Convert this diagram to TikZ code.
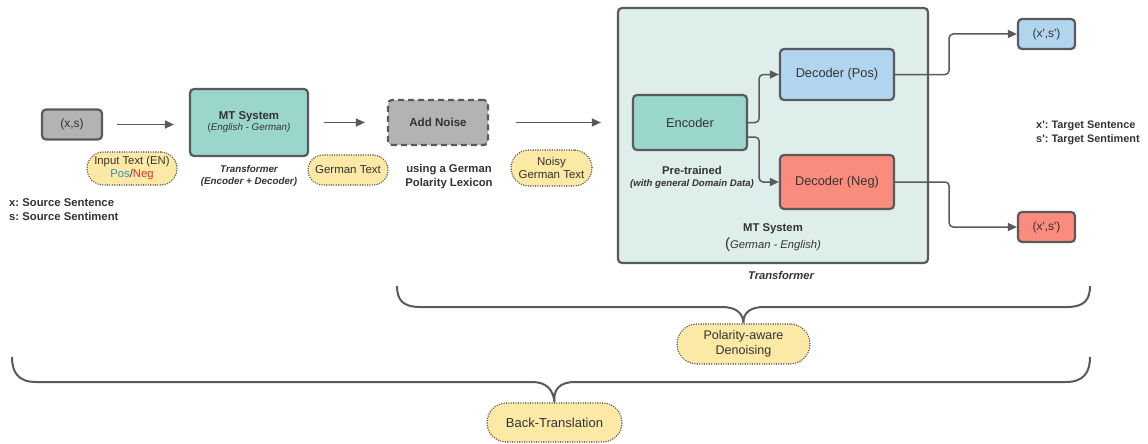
\documentclass[tikz,border=0pt]{standalone}
\usepackage{fontspec}
\setmainfont{Liberation Sans}
\usetikzlibrary{arrows.meta}
\definecolor{ink}{HTML}{5A5A5A}
\definecolor{txt}{HTML}{333333}
\definecolor{cgray}{HTML}{B3B3B3}
\definecolor{cteal}{HTML}{9AD6CB}
\definecolor{cpale}{HTML}{DDEEEB}
\definecolor{cblue}{HTML}{B2D5EF}
\definecolor{csalmon}{HTML}{FA8C7E}
\definecolor{cyellow}{HTML}{FDE9A6}
\definecolor{posblue}{HTML}{2B8CC4}
\definecolor{negred}{HTML}{E0302C}
\newcommand{\fs}[2]{\fontsize{#1}{#2}\selectfont}
\newcommand{\pr}{\textquotesingle}
\frenchspacing
\tikzset{
  box/.style={draw=ink, line width=2.2pt, rounded corners=4pt, text=txt, inner sep=0pt, align=center},
  pill/.style={draw=ink, fill=cyellow, line width=1.6pt, dash pattern=on 0pt off 2.4pt, line cap=round, text=txt, inner sep=0pt, align=center},
  arr/.style={draw=ink, line width=1.5pt, rounded corners=4pt, -{Triangle[length=9pt,width=8pt]}},
  brace/.style={draw=ink, line width=2pt},
  lbl/.style={text=txt, inner sep=0pt, align=center, font=\bfseries\fs{11.3}{14}},
}
\begin{document}
\frenchspacing
\begin{tikzpicture}[x=1pt,y=-1pt]
\useasboundingbox (0,0) rectangle (1148,444);
% left part
\node[box, fill=cgray, minimum width=60pt, minimum height=30pt, font=\fs{12}{14}] (xs) at (72,124.5) {(x,s)};
\node[box, fill=cteal, minimum width=118pt, minimum height=67pt] (mt) at (249,122.5)
  {{\bfseries\fs{11.4}{13}MT System}\\[-1pt]{\fs{9.8}{12}(\itshape English - German)}};
\node[pill, minimum width=90pt, minimum height=33pt, rounded corners=16.5pt, font=\fs{11.3}{13}] (inp) at (132,168.5)
  {Input Text (EN)\\\textcolor{posblue}{Pos}/\textcolor{negred}{Neg}};
\node[lbl, font=\bfseries\itshape\fs{9.8}{12.5}] (trf1) at (249,176) {Transformer\\(Encoder + Decoder)};
\node[lbl, anchor=west, align=left] (srcl) at (9,210) {x: Source Sentence\\s: Source Sentiment};
\node[box, fill=cgray, dash pattern=on 6pt off 4pt, minimum width=100pt, minimum height=45pt, font=\bfseries\fs{11.6}{13}] (noise) at (438,122.5) {Add Noise};
\node[pill, minimum width=80pt, minimum height=30pt, rounded corners=15pt, font=\fs{11.5}{13}] (gt) at (348,170) {German Text};
\node[lbl] (lex) at (449,177) {using a German\\Polarity Lexicon};
\node[pill, minimum width=81pt, minimum height=36pt, rounded corners=18pt, font=\fs{11.5}{13}] (ngt) at (551.5,168) {Noisy\\German Text};
% container
\node[box, fill=cpale, minimum width=310pt, minimum height=255pt] (cont) at (773,135.5) {};
\node[box, fill=cteal, minimum width=114pt, minimum height=55pt, font=\fs{12.8}{14}] (enc) at (690,122.5) {Encoder};
\node[box, fill=cblue, minimum width=114pt, minimum height=51pt, font=\fs{12.8}{14}] (dpos) at (837,74.5) {Decoder (Pos)};
\node[box, fill=csalmon, minimum width=114pt, minimum height=54pt, font=\fs{12.8}{14}] (dneg) at (837,182) {Decoder (Neg)};
\node[lbl] (pre) at (692,170) {Pre-trained};
\node[lbl, font=\bfseries\itshape\fs{9.6}{11}] (pre2) at (692,184) {(with general Domain Data)};
\node[lbl] (mt2) at (773,229) {MT System};
\node[lbl, font=\fs{11.2}{14}] (mt2b) at (773,245) {{\fs{15}{15}(}\itshape German - English)};
\node[lbl, font=\bfseries\itshape\fs{11.2}{14}] (trf2) at (781,275) {Transformer};
% outputs
\node[box, fill=cblue, minimum width=57pt, minimum height=30pt, font=\fs{12}{14}] (opos) at (1046.5,34) {(x\pr,s\pr)};
\node[box, fill=csalmon, minimum width=57pt, minimum height=30pt, font=\fs{12}{14}] (oneg) at (1046.5,227) {(x\pr,s\pr)};
\node[lbl, anchor=west, align=left, font=\bfseries\fs{10.9}{14}] (tgtl) at (1036,133) {x\pr: Target Sentence\\s\pr: Target Sentiment};
% arrows
\draw[arr, shorten <=14pt, shorten >=15pt] (xs.east) -- (xs.east -| mt.west);
\draw[arr, shorten <=15pt, shorten >=22pt] (mt.east) -- (noise.west);
\draw[arr, shorten <=27pt, shorten >=16pt] (noise.east) -- (noise.east -| cont.west);
\draw[arr] (enc.east) -- ++(11,0) |- (dpos.west);
\draw[arr] ([yshift=-14.5pt]enc.east) -- ++(11,0) |- (dneg.west);
\draw[arr] (dpos.east) -- ++(54,0) |- (opos.west);
\draw[arr] (dneg.east) -- ++(54,0) |- (oneg.west);
% braces
\node[pill, minimum width=133pt, minimum height=40pt, rounded corners=20pt, font=\fs{12.5}{15}] (pad) at (743.5,344) {Polarity-aware\\Denoising};
\node[pill, minimum width=135pt, minimum height=39pt, rounded corners=19.5pt, font=\fs{13}{15}] (bt) at (554.5,422.5) {Back-Translation};
\coordinate (b1l) at (397,286);
\coordinate (b1r) at (1090,286);
\coordinate (b2l) at (12,357);
\coordinate (b2r) at (1090,357);
\draw[brace] (b1l) .. controls (397,300) and (403,307) .. (420,307) -- (722,307)
  .. controls (736,307) and (743,313) .. (pad.north)
  .. controls (743,313) and (750,307) .. (764,307) -- (1067,307)
  .. controls (1084,307) and (1090,300) .. (b1r);
\draw[brace] (b2l) .. controls (12,372) and (18,382) .. (36,382) -- (532,382)
  .. controls (546,382) and (553,389) .. (bt.north)
  .. controls (553,389) and (560,382) .. (575,382) -- (1066,382)
  .. controls (1084,382) and (1090,372) .. (b2r);
\end{tikzpicture}
\end{document}
